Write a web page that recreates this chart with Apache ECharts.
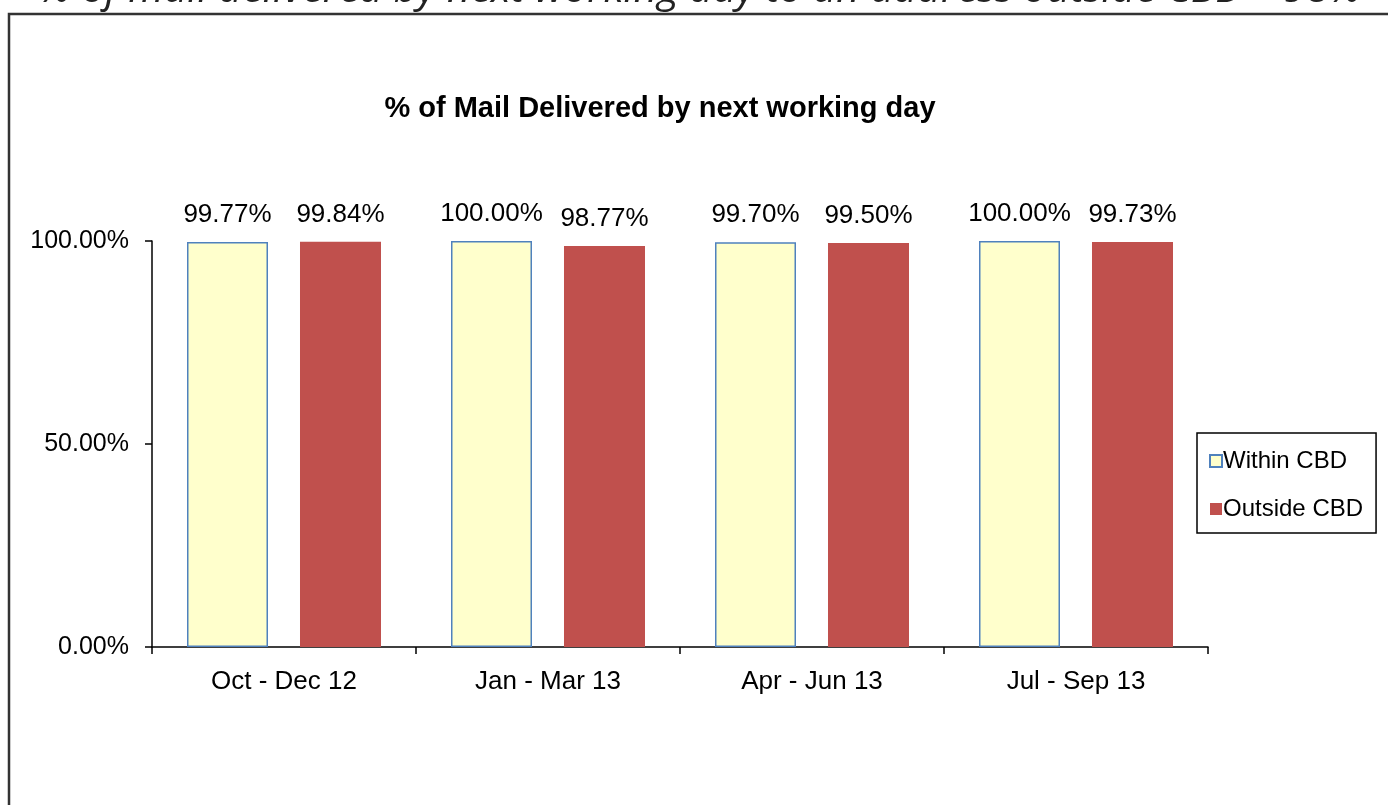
<!DOCTYPE html>
<html><head><meta charset="utf-8">
<script src="https://cdn.jsdelivr.net/npm/echarts@6/dist/echarts.min.js"></script>
<style>html,body{margin:0;padding:0;background:#fff}#c{width:1388px;height:805px}</style>
</head><body><div id="c"></div>
<script>
const categories = ['Oct - Dec 12', 'Jan - Mar 13', 'Apr - Jun 13', 'Jul - Sep 13'];
const withinCBD = [99.77, 100.00, 99.70, 100.00];
const outsideCBD = [99.84, 98.77, 99.50, 99.73];
const yTicks = [0, 50, 100];
const chartTitle = '% of Mail Delivered by next working day';
const headerText = '% of mail delivered by next working day to an address outside CBD \u2013 98%';

const F = '"Liberation Sans", Arial, sans-serif';
const chart = echarts.init(document.getElementById('c'));
const lbl = {show: true, position: 'top', distance: 14, fontFamily: F, fontSize: 26, color: '#000',
  formatter: p => p.value.toFixed(2) + '%'};
chart.setOption({
  animation: false,
  title: {text: chartTitle, left: 655, textAlign: 'center', top: 89,
    textStyle: {fontFamily: F, fontSize: 29, fontWeight: 'bold', color: '#000'}},
  graphic: [
    {type: 'rect', shape: {x: 9, y: 14, width: 1420, height: 830},
      style: {fill: 'none', stroke: '#333', lineWidth: 2.5}},
    {type: 'text', x: 700, y: -30, style: {text: headerText, textAlign: 'center', textVerticalAlign: 'top',
      font: 'italic 41px "Open Sans"', fill: '#222'}}
  ],
  legend: {orient: 'vertical', left: 1197, top: 433,
    borderColor: '#000', borderWidth: 1.5, padding: [16, 13, 12, 12], itemGap: 24,
    itemWidth: 12, itemHeight: 12, icon: 'rect',
    textStyle: {fontFamily: F, fontSize: 24, color: '#000', padding: [0, 0, 0, -4]}},
  grid: {left: 152, right: 180, top: 241, bottom: 158},
  xAxis: {type: 'category', data: categories,
    axisLine: {lineStyle: {color: '#000', width: 1.5}},
    axisTick: {show: true, length: 7, inside: false, alignWithLabel: false, lineStyle: {color: '#000', width: 1.5}},
    axisLabel: {fontFamily: F, fontSize: 26, color: '#000', margin: 22}},
  yAxis: {type: 'value', min: 0, max: 100, interval: 50,
    axisLine: {show: true, lineStyle: {color: '#000', width: 1.5}},
    axisTick: {show: true, length: 7, lineStyle: {color: '#000', width: 1.5}},
    splitLine: {show: false},
    axisLabel: {fontFamily: F, fontSize: 25, color: '#000', margin: 23,
      formatter: v => yTicks.includes(v) ? v.toFixed(2) + '%' : ''}},
  series: [
    {name: 'Within CBD', type: 'bar', data: withinCBD, barWidth: 81, barGap: '39.5%',
      itemStyle: {color: '#FFFFCC', borderColor: '#4F81BD', borderWidth: 1.5}, label: lbl},
    {name: 'Outside CBD', type: 'bar', data: outsideCBD, barWidth: 81,
      itemStyle: {color: '#C0504D'}, label: lbl}
  ]
});
</script></body></html>
